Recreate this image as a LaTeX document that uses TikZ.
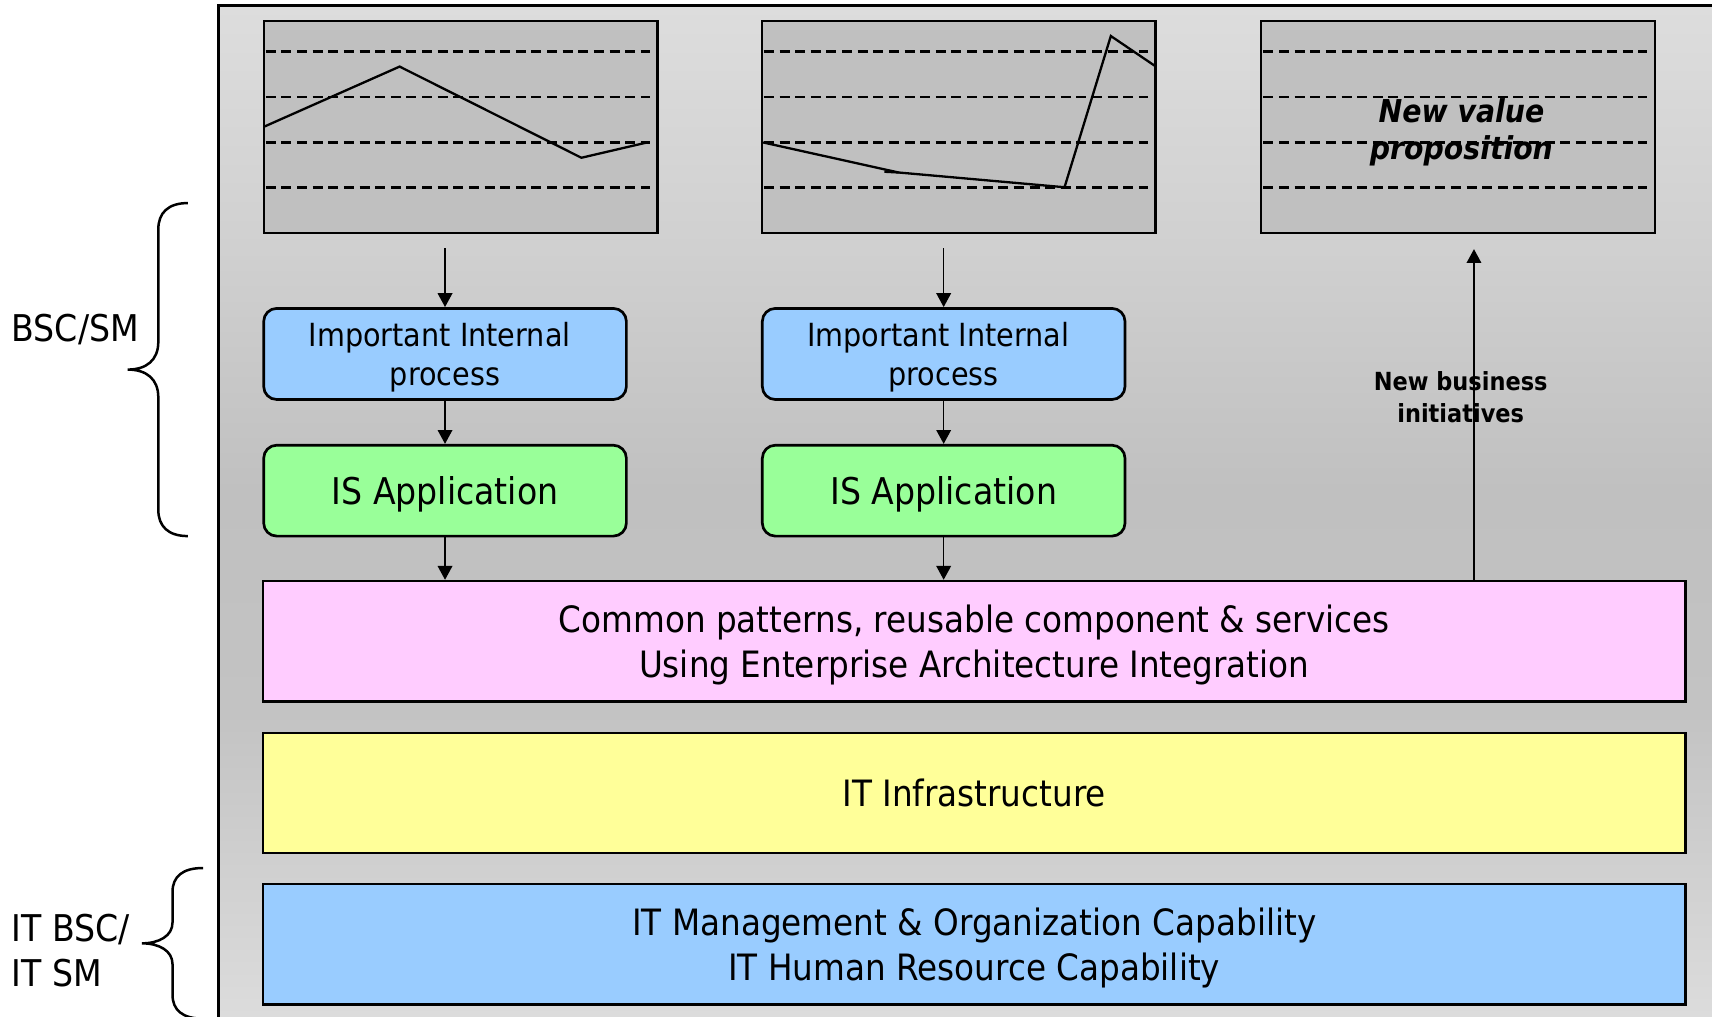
\documentclass[tikz,border=0pt]{standalone}
\usepackage{fontspec}
\setmainfont{DejaVu Sans}[FakeStretch=0.9]
\usetikzlibrary{arrows.meta}
\definecolor{procblue}{HTML}{99CCFF}
\definecolor{isgreen}{HTML}{99FF99}
\definecolor{eapink}{HTML}{FFCCFF}
\definecolor{infyellow}{HTML}{FFFF99}
\definecolor{mgmtblue}{HTML}{99CCFF}
\definecolor{chartgray}{HTML}{C0C0C0}
\definecolor{bgA}{HTML}{DDDDDD}
\definecolor{bgB}{HTML}{D0D0D0}
\definecolor{bgC}{HTML}{C0C0C0}
\definecolor{bgD}{HTML}{C3C3C3}
\definecolor{bgE}{HTML}{DCDCDC}
\pgfdeclareverticalshading{bgshade}{100bp}{color(0bp)=(bgE); color(25bp)=(bgE); color(40bp)=(bgD); color(51bp)=(bgC); color(63bp)=(bgB); color(75bp)=(bgA); color(100bp)=(bgA)}
\begin{document}
\begin{tikzpicture}[x=0.01cm,y=-0.01cm,
  chartbox/.style={draw=black, line width=0.6pt, fill=chartgray, minimum width=3.604cm, minimum height=1.946cm, inner sep=0pt},
  gridline/.style={line width=0.7pt, dash pattern=on 2.6pt off 1.47pt},
  trend/.style={line width=0.6pt, line join=miter},
  procbox/.style={draw=black, line width=0.7pt, fill=procblue, rounded corners=3.4pt, minimum width=3.32cm, minimum height=0.834cm, inner sep=0pt, align=center, text depth=-0.3pt, font=\fontsize{8.3}{9.96}\selectfont},
  isbox/.style={draw=black, line width=0.7pt, fill=isgreen, rounded corners=3.4pt, minimum width=3.32cm, minimum height=0.832cm, inner sep=0pt, text depth=0pt, font=\fontsize{9.6}{11.5}\selectfont},
  layer/.style={draw=black, line width=0.7pt, minimum width=13.02cm, minimum height=1.10cm, inner sep=0pt, align=center, font=\fontsize{9.45}{11.67}\selectfont},
  arr/.style={line width=0.4pt, -{Triangle[length=3.6pt,width=3.8pt]}},
  brace/.style={line width=0.65pt},
  sidelabel/.style={font=\fontsize{9.6}{11.7}\selectfont, align=left, inner sep=0pt}
]
\useasboundingbox (0,0) rectangle (1568,931);
\clip (0,0) rectangle (1568,931);
\fill[white] (0,0) rectangle (1568,931);

% background frame
\shade[shading=bgshade] (200,5) rectangle (1568,931);
\draw[line width=0.6pt] (200,940) -- (200,5) -- (1580,5);

% charts
\node[chartbox] (c1) at (421.8,116.3) {};
\node[chartbox] (c2) at (878,116.3) {};
\node[chartbox] (c3) at (1335.5,116.3) {};
\foreach \yy in {47.3,88.9,130.4,172}{
  \draw[gridline] ([xshift=0.03cm]c1.west |- 0,\yy) -- ([xshift=-0.08cm]c1.east |- 0,\yy);
  \draw[gridline] ([xshift=0.03cm]c2.west |- 0,\yy) -- ([xshift=-0.08cm]c2.east |- 0,\yy);
  \draw[gridline] ([xshift=0.03cm]c3.west |- 0,\yy) -- ([xshift=-0.08cm]c3.east |- 0,\yy);
}
\draw[trend] (242,116) -- (366,61) -- (532.5,144.5) -- (593,130.4);
\draw[trend] (699,130.5) -- (823,158) -- (975,171.5) -- (1017.4,33) -- (1058,60.5);
\draw[trend] (810,157.3) -- (823,158);
\node[font=\fontsize{8.2}{9.73}\selectfont\bfseries\itshape, align=center, inner sep=0pt] (nvtext) at (1338.5,121) {New value\\proposition};

% process and application boxes
\node[procbox] (p1) at (407.6,324.2) {Important Internal\kern2.8pt\\process};
\node[procbox] (p2) at (864.3,324.2) {Important Internal\kern2.8pt\\process};
\node[isbox] (i1) at (407.6,449.4) {IS Application};
\node[isbox] (i2) at (864.3,449.4) {IS Application};

% layers
\node[layer, fill=eapink, text depth=-0.6pt] (ea) at (892.3,587.3) {Common patterns, reusable component \& services\\Using Enterprise Architecture Integration};
\node[layer, fill=infyellow] (inf) at (892.3,726.3) {IT Infrastructure};
\node[layer, fill=mgmtblue, text depth=-0.6pt] (mgmt) at (892.3,864.8) {IT Management \& Organization Capability\\IT Human Resource Capability};

% connectors
\coordinate (s1) at (407.6,227.5);
\coordinate (s2) at (864.3,227.5);
\coordinate (nvp) at (1350,228.2);
\draw[arr] (s1) -- (s1 |- p1.north);
\draw[arr] (s2) -- (s2 |- p2.north);
\draw[arr] (p1) -- (i1);
\draw[arr] (p2) -- (i2);
\draw[arr] (i1.south) -- (i1.south |- ea.north);
\draw[arr] (i2.south) -- (i2.south |- ea.north);
\draw[arr] (ea.north -| nvp) -- (nvp);
\node[font=\fontsize{6.5}{8.25}\selectfont\bfseries, align=center, inner sep=0pt] (nbtext) at (1337.8,363.5) {New business\\initiatives};

% side labels and braces
\node[sidelabel, anchor=base west] (bsc) at (10,313) {BSC/SM};
\node[sidelabel, anchor=west] (itbsc) at (10,871) {IT BSC/\\IT SM};
\draw[brace] (172,186) .. controls (154,186) and (145,195) .. (145,210) -- (145,313)
  .. controls (145,330) and (134,338.5) .. (117,338.5) .. controls (134,338.5) and (145,347) .. (145,364)
  -- (145,467) .. controls (145,482) and (154,491) .. (172,491);
\draw[brace] (186,795) .. controls (167,795) and (158,803) .. (158,817) -- (158,845)
  .. controls (158,857) and (146,864) .. (130,864) .. controls (146,864) and (158,871) .. (158,883)
  -- (158,911) .. controls (158,925) and (167,933) .. (186,933);
\end{tikzpicture}
\end{document}
